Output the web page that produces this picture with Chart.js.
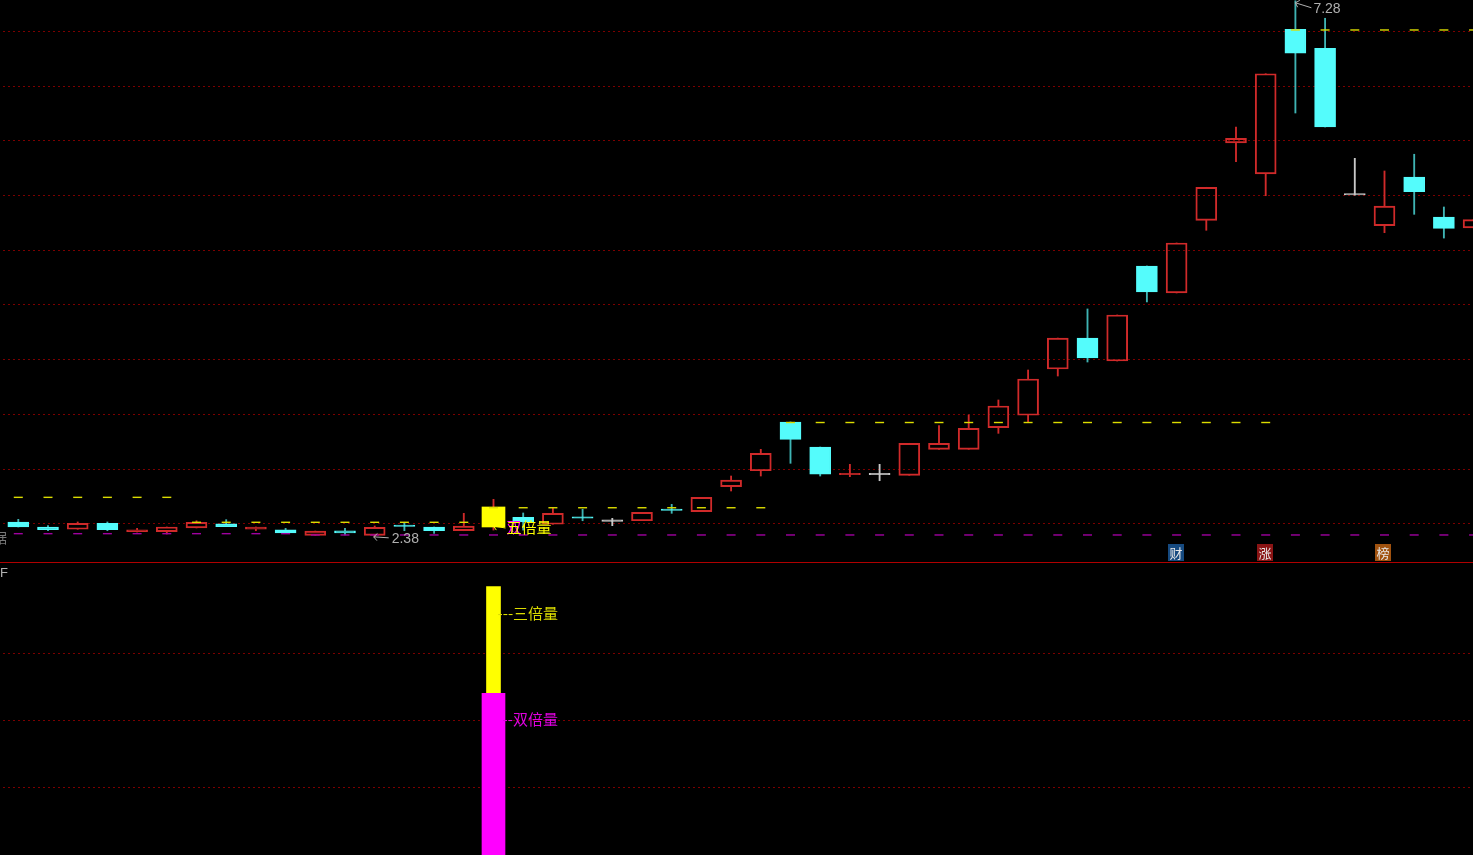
<!DOCTYPE html>
<html>
<head>
<meta charset="utf-8">
<title>K线</title>
<style>
    html, body { margin: 0; padding: 0; background: #000; overflow: hidden; }
    #wrap { position: relative; width: 1473px; height: 855px; background: #000; }
    canvas { position: absolute; left: 0; }
    #priceChart { top: 0; }
    #paneLine { position: absolute; left: 0; top: 562px; width: 1473px; height: 1px; background: #b00000; }
    #volumeChart { top: 563px; }
</style>
<script src="https://cdn.jsdelivr.net/npm/chart.js@4"></script>
</head>
<body>
<div id="wrap">
    <canvas id="priceChart" width="1473" height="562"></canvas>
    <div id="paneLine"></div>
    <canvas id="volumeChart" width="1473" height="292"></canvas>
</div>
<script>
// candle values
const opens = [2.516, 2.470, 2.449, 2.504, 2.427, 2.427, 2.461, 2.500, 2.449, 2.445,
    2.394, 2.436, 2.394, 2.483, 2.470, 2.436, 2.470, 2.559, 2.495, 2.559,
    2.522, 2.527, 2.629, 2.610, 2.838, 2.984, 3.430, 3.201, 2.948, 2.948,
    2.942, 3.180, 3.180, 3.378, 3.491, 3.914, 4.197, 3.987, 4.856, 4.609,
    5.273, 5.980, 5.697, 7.019, 6.845, 5.505, 5.224, 5.669, 5.303, 5.203];
const closes = [2.470, 2.445, 2.504, 2.445, 2.445, 2.470, 2.513, 2.473, 2.470, 2.415,
    2.433, 2.415, 2.467, 2.475, 2.436, 2.479, 2.653, 2.516, 2.595, 2.551,
    2.522, 2.604, 2.621, 2.741, 2.899, 3.144, 3.271, 2.952, 2.956, 2.948,
    3.235, 3.235, 3.372, 3.576, 3.823, 4.197, 4.015, 4.408, 4.618, 5.066,
    5.575, 6.023, 6.613, 6.800, 6.126, 5.505, 5.404, 5.535, 5.200, 5.279];
const highs = [2.540, 2.482, 2.516, 2.516, 2.458, 2.470, 2.527, 2.537, 2.470, 2.458,
    2.433, 2.458, 2.479, 2.513, 2.470, 2.595, 2.723, 2.598, 2.646, 2.632,
    2.549, 2.604, 2.677, 2.741, 2.936, 3.180, 3.430, 3.201, 3.043, 3.043,
    3.235, 3.396, 3.494, 3.631, 3.905, 4.197, 4.463, 4.408, 4.856, 5.066,
    5.575, 6.126, 6.613, 7.280, 7.120, 5.840, 5.724, 5.877, 5.395, 5.279];
const lows = [2.470, 2.436, 2.449, 2.436, 2.424, 2.406, 2.461, 2.473, 2.436, 2.415,
    2.394, 2.397, 2.380, 2.436, 2.412, 2.436, 2.442, 2.442, 2.495, 2.527,
    2.482, 2.527, 2.595, 2.610, 2.799, 2.936, 3.052, 2.936, 2.930, 2.893,
    2.942, 3.180, 3.180, 3.326, 3.430, 3.850, 3.978, 3.987, 4.527, 4.609,
    5.182, 5.809, 5.498, 6.254, 6.126, 5.505, 5.160, 5.328, 5.111, 5.203];
const spikeIndex = [16];

// stepped reference levels, one dash per candle
const yellowLevels = [2.741, 2.741, 2.741, 2.741, 2.741, 2.741, 2.513, 2.513, 2.513, 2.513,
    2.513, 2.513, 2.513, 2.513, 2.513, 2.513, 2.646, 2.646, 2.646, 2.646,
    2.646, 2.646, 2.646, 2.646, 2.646, 2.646, 3.425, 3.425, 3.425, 3.425,
    3.425, 3.425, 3.425, 3.425, 3.425, 3.425, 3.425, 3.425, 3.425, 3.425,
    3.425, 3.425, 3.425, 7.013, 7.013, 7.013, 7.013, 7.013, 7.013, 7.013];
const purpleLevels = [2.409, 2.409, 2.409, 2.409, 2.409, 2.409, 2.409, 2.409, 2.409, 2.409,
    2.397, 2.397, 2.397, 2.397, 2.397, 2.397, 2.397, 2.397, 2.397, 2.397,
    2.397, 2.397, 2.397, 2.397, 2.397, 2.397, 2.397, 2.397, 2.397, 2.397,
    2.397, 2.397, 2.397, 2.397, 2.397, 2.397, 2.397, 2.397, 2.397, 2.397,
    2.397, 2.397, 2.397, 2.397, 2.397, 2.397, 2.397, 2.397, 2.397, 2.397];
const priceTicks = [2.5, 3, 3.5, 4, 4.5, 5, 5.5, 6, 6.5, 7];

// lower pane
const volumeIndex = [16];
const tripleVolume = [4.01];
const doubleVolume = [2.41];
const volumeTicks = [1, 2, 3];

const RED = '#d02a2a';
const CYAN = '#54fcfc';
const WHITE = '#c8c8c8';
const YELLOW = '#ffff00';
const MAGENTA = '#ff00ff';
const CJK = '"Noto Sans CJK SC", sans-serif';

function candleColor(i) {
    if (closes[i] > opens[i]) return RED;
    if (closes[i] < opens[i]) return CYAN;
    return WHITE;
}

function wickColor(i) {
    const c = candleColor(i);
    return c === CYAN ? '#3fb4b4' : c;
}

function isThin(i) {
    return Math.abs(closes[i] - opens[i]) < 0.03;
}

function candleBody(i) {
    return { x: i, y: [Math.min(opens[i], closes[i]), Math.max(opens[i], closes[i])] };
}

const allIndexes = opens.map((v, i) => i);
const plainCandles = allIndexes.filter(i => !spikeIndex.includes(i));

function barStyle(width) {
    return { grouped: false, barPercentage: 1, categoryPercentage: 1, maxBarThickness: width };
}

function hiddenX() {
    return { type: 'linear', display: false, offset: false, min: -0.616, max: 48.98 };
}

function dottedY(min, max, tickValues) {
    return {
        min: min,
        max: max,
        border: { display: false, dash: [2, 3], dashOffset: 2 },
        ticks: { display: false },
        grid: {
            color: '#7c0000',
            lineWidth: 1,
            drawTicks: false
        },
        afterBuildTicks: scale => { scale.ticks = tickValues.map(v => ({ value: v })); },
        afterFit: scale => { scale.width = 0; }
    };
}

function arrow(ctx, x1, y1, x2, y2, color) {
    // arrow pointing at x1,y1
    const a = Math.atan2(y2 - y1, x2 - x1);
    ctx.strokeStyle = color;
    ctx.lineWidth = 1;
    ctx.beginPath();
    ctx.moveTo(x2, y2);
    ctx.lineTo(x1, y1);
    ctx.moveTo(x1 + 5 * Math.cos(a - 0.8), y1 + 5 * Math.sin(a - 0.8));
    ctx.lineTo(x1, y1);
    ctx.lineTo(x1 + 5 * Math.cos(a + 0.8), y1 + 5 * Math.sin(a + 0.8));
    ctx.stroke();
}

function badge(ctx, x, text, bg) {
    ctx.fillStyle = bg;
    ctx.fillRect(Math.round(x) - 8, 544, 16, 17);
    ctx.fillStyle = '#e8e8e8';
    ctx.font = '13px ' + CJK;
    ctx.textAlign = 'center';
    ctx.fillText(text, Math.round(x), 553);
    ctx.textAlign = 'left';
}

const priceLabels = {
    id: 'priceLabels',
    afterDatasetsDraw(chart) {
        const { ctx, scales } = chart;
        const xAt = i => scales.x.getPixelForValue(i);
        const yAt = p => scales.y.getPixelForValue(p);
        ctx.save();
        ctx.textBaseline = 'middle';

        // highest and lowest price
        const topX = xAt(43), topY = yAt(7.28);
        arrow(ctx, topX, topY + 2, topX + 16, topY + 7, '#b0b0b0');
        ctx.fillStyle = '#b0b0b0';
        ctx.font = '14px "Liberation Sans", sans-serif';
        ctx.fillText('7.28', topX + 18, topY + 8);

        const lowX = xAt(12), lowY = yAt(2.38);
        arrow(ctx, lowX - 1, lowY, lowX + 14, lowY + 1, '#b0b0b0');
        ctx.fillStyle = '#b0b0b0';
        ctx.fillText('2.38', lowX + 17, lowY + 2);

        // 五倍量 marker at the yellow candle
        const spikeX = xAt(spikeIndex[0]);
        arrow(ctx, spikeX, 526, spikeX + 12, 528, YELLOW);
        ctx.font = '15px ' + CJK;
        ctx.fillStyle = MAGENTA;
        ctx.fillText('双', spikeX + 13, 527);
        ctx.fillStyle = YELLOW;
        ctx.fillText('五倍量', spikeX + 13, 527);

        // left edge, cut off in the original
        ctx.fillStyle = '#777777';
        ctx.font = '14px ' + CJK;
        ctx.fillText('据', -7, 538);

        badge(ctx, xAt(39) - 1, '财', '#164a80');
        badge(ctx, xAt(42) - 1, '涨', '#8a1414');
        badge(ctx, xAt(46) - 1.5, '榜', '#a0520f');
        ctx.restore();
    }
};

const volumeLabels = {
    id: 'volumeLabels',
    afterDatasetsDraw(chart) {
        const { ctx, scales } = chart;
        const x = scales.x.getPixelForValue(volumeIndex[0]);
        const yTriple = 50;
        const yDouble = scales.y.getPixelForValue(2) - 1;
        ctx.save();
        ctx.textBaseline = 'middle';
        ctx.font = '15px ' + CJK;
        ctx.fillStyle = '#dcdc00';
        ctx.fillText('---三倍量', x + 4, yTriple);
        ctx.fillStyle = '#e000e0';
        ctx.fillText('--双倍量', x + 9, yDouble);
        ctx.fillStyle = '#b0b0b0';
        ctx.font = '13px "Liberation Sans", sans-serif';
        ctx.fillText('F', 0, 10);
        ctx.restore();
    }
};

function dashes(levels, color) {
    return {
        type: 'line',
        data: levels.map((v, i) => ({ x: i, y: v })),
        showLine: false,
        pointStyle: 'line',
        pointRadius: 4.5,
        pointBorderWidth: 1.4,
        pointBorderColor: color,
        order: 0
    };
}

new Chart(document.getElementById('priceChart'), {
    type: 'bar',
    data: {
        datasets: [
            // upper wicks
            Object.assign({
                data: allIndexes.map(i => ({ x: i, y: [Math.max(opens[i], closes[i]), highs[i]] })),
                backgroundColor: allIndexes.map(wickColor),
                order: 3
            }, barStyle(1.2)),
            // lower wicks
            Object.assign({
                data: allIndexes.map(i => ({ x: i, y: [lows[i], Math.min(opens[i], closes[i])] })),
                backgroundColor: allIndexes.map(wickColor),
                order: 3
            }, barStyle(1.2)),
            // bodies, red ones stay hollow
            Object.assign({
                data: plainCandles.map(candleBody),
                backgroundColor: plainCandles.map(i => (candleColor(i) === CYAN || isThin(i)) ? candleColor(i) : 'transparent'),
                borderColor: plainCandles.map(candleColor),
                borderWidth: 1.3,
                borderSkipped: false,
                minBarLength: 1.4,
                order: 2
            }, barStyle(21)),
            // five times volume candle
            Object.assign({
                data: spikeIndex.map(candleBody),
                backgroundColor: YELLOW,
                order: 2
            }, barStyle(23)),
            dashes(purpleLevels, '#a000a0'),
            dashes(yellowLevels, '#dcdc00')
        ]
    },
    options: {
        responsive: false,
        animation: false,
        events: [],
        layout: { padding: 0, autoPadding: false },
        plugins: { legend: { display: false }, tooltip: { enabled: false } },
        scales: { x: hiddenX(), y: dottedY(2.15, 7.287, priceTicks) }
    },
    plugins: [priceLabels]
});

new Chart(document.getElementById('volumeChart'), {
    type: 'bar',
    data: {
        datasets: [
            Object.assign({
                data: volumeIndex.map((v, k) => ({ x: v, y: tripleVolume[k] })),
                backgroundColor: YELLOW,
                base: -0.016,
                order: 2
            }, barStyle(14)),
            Object.assign({
                data: volumeIndex.map((v, k) => ({ x: v, y: doubleVolume[k] })),
                backgroundColor: MAGENTA,
                base: -0.016,
                order: 1
            }, barStyle(23))
        ]
    },
    options: {
        responsive: false,
        animation: false,
        events: [],
        layout: { padding: 0, autoPadding: false },
        plugins: { legend: { display: false }, tooltip: { enabled: false } },
        scales: { x: hiddenX(), y: dottedY(-0.016, 4.365, volumeTicks) }
    },
    plugins: [volumeLabels]
});
</script>
</body>
</html>
